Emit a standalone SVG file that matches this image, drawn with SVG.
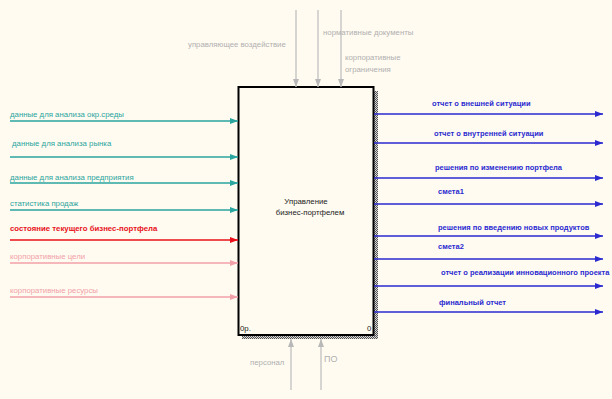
<svg xmlns="http://www.w3.org/2000/svg" width="612" height="399" viewBox="0 0 612 399">
<defs>
<pattern id="dither" width="2" height="2" patternUnits="userSpaceOnUse">
<rect width="2" height="2" fill="#d8d8d8"/>
<rect width="1" height="1" fill="#555"/>
<rect x="1" y="1" width="1" height="1" fill="#555"/>
</pattern>
<marker id="aT" markerWidth="8" markerHeight="6" refX="8" refY="3" orient="auto" markerUnits="userSpaceOnUse"><path d="M0,0 L8,3 L0,6 Z" fill="#2aa5a0"/></marker>
<marker id="aR" markerWidth="8" markerHeight="6" refX="8" refY="3" orient="auto" markerUnits="userSpaceOnUse"><path d="M0,0 L8,3 L0,6 Z" fill="#e8101a"/></marker>
<marker id="aP" markerWidth="8" markerHeight="6" refX="8" refY="3" orient="auto" markerUnits="userSpaceOnUse"><path d="M0,0 L8,3 L0,6 Z" fill="#f2a0a8"/></marker>
<marker id="aG" markerWidth="8" markerHeight="6" refX="8" refY="3" orient="auto" markerUnits="userSpaceOnUse"><path d="M0,0 L8,3 L0,6 Z" fill="#b8b8b8"/></marker>
<marker id="aB" markerWidth="8" markerHeight="6" refX="8" refY="3" orient="auto" markerUnits="userSpaceOnUse"><path d="M0,0 L8,3 L0,6 Z" fill="#2a2ad0"/></marker>
</defs>
<style>
text{font-family:"Liberation Sans",Arial,sans-serif;font-size:7.8px}
.t{fill:#2aa5a0}.r{fill:#e8101a;font-weight:bold}.p{fill:#f2a0a8}.g{fill:#b0b0b0}.b{fill:#2a2ad0;font-weight:bold;font-size:7.5px}.k{fill:#222}
.lt{stroke:#2aa5a0;stroke-width:1.5;fill:none;marker-end:url(#aT)}
.lr{stroke:#e8101a;stroke-width:1.5;fill:none;marker-end:url(#aR)}
.lp{stroke:#f2a0a8;stroke-width:1.3;fill:none;marker-end:url(#aP)}
.lg{stroke:#c0c0c0;stroke-width:1.3;fill:none;marker-end:url(#aG)}
.lb{stroke:#2a2ad0;stroke-width:1.5;fill:none;marker-end:url(#aB)}
</style>
<rect width="612" height="399" fill="#fffbf0"/>
<g id="node-A0">
<rect x="242" y="91" width="136" height="248" fill="url(#dither)"/>
<rect x="238.5" y="87" width="135" height="248" fill="#fffbf0" stroke="#000" stroke-width="2"/>
<text class="k" x="306" y="204" text-anchor="middle">Управление</text>
<text class="k" x="310" y="215" text-anchor="middle">бизнес-портфелем</text>
<text class="k" x="240" y="331">0р.</text>
<text class="k" x="367" y="331">0</text>
</g>
<g id="connectors">
<path class="lt" d="M10,121 H238"/>
<path class="lt" d="M10,157 H238"/>
<path class="lt" d="M10,183 H238"/>
<path class="lt" d="M10,210 H238"/>
<path class="lr" d="M10,240 H238"/>
<path class="lp" d="M10,263 H238"/>
<path class="lp" d="M10,297 H238"/>
<path class="lg" d="M296,10 V87"/>
<path class="lg" d="M318,10 V87"/>
<path class="lg" d="M341,10 V87"/>
<path class="lg" d="M291,390 V339"/>
<path class="lg" d="M321,390 V339"/>
<path class="lb" d="M374,114 H603"/>
<path class="lb" d="M374,143 H603"/>
<path class="lb" d="M374,178 H603"/>
<path class="lb" d="M374,204 H603"/>
<path class="lb" d="M374,236 H603"/>
<path class="lb" d="M374,259 H603"/>
<path class="lb" d="M374,286 H603"/>
<path class="lb" d="M374,312 H603"/>
</g>
<g id="labels">
<text class="t" x="10" y="117">данные для анализа окр.среды</text>
<text class="t" x="12" y="146">данные для анализа рынка</text>
<text class="t" x="10" y="180">данные для анализа предприятия</text>
<text class="t" x="10" y="206">статистика продаж</text>
<text class="r" x="10" y="231">состояние текущего бизнес-портфела</text>
<text class="p" x="10" y="259">корпоративные цели</text>
<text class="p" x="10" y="293">корпоративные ресурсы</text>
<text class="g" x="188" y="47">управляющее воздействие</text>
<text class="g" x="323" y="35">нормативные документы</text>
<text class="g" x="345" y="60">корпоративные</text>
<text class="g" x="345" y="72">ограничения</text>
<text class="g" x="250" y="365">персонал</text>
<text class="g" x="324" y="362" style="font-size:9px">ПО</text>
<text class="b" x="432" y="106">отчет о внешней ситуации</text>
<text class="b" x="434" y="136">отчет о внутренней ситуации</text>
<text class="b" x="435" y="170">решения по изменению портфела</text>
<text class="b" x="438" y="194">смета1</text>
<text class="b" x="438" y="230">решения по введению новых продуктов</text>
<text class="b" x="438" y="249">смета2</text>
<text class="b" x="441" y="275">отчет о реализации инновационного проекта</text>
<text class="b" x="439" y="305">финальный отчет</text>
</g>
</svg>
